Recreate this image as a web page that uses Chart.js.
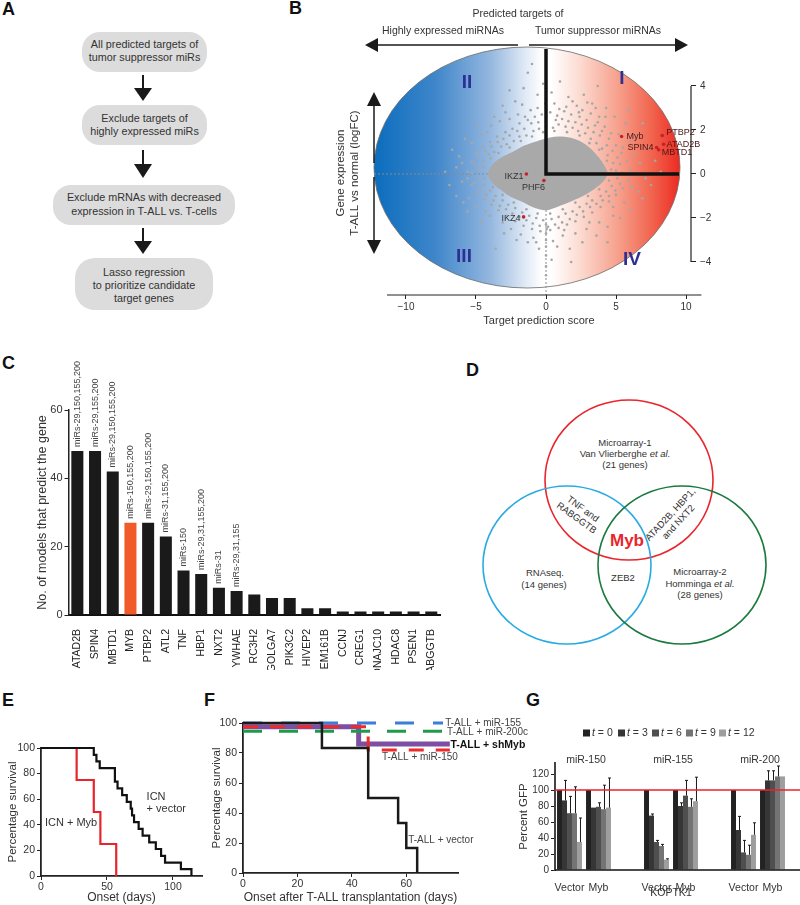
<!DOCTYPE html>
<html><head><meta charset="utf-8">
<script src="https://cdn.jsdelivr.net/npm/chart.js@4.4.1/dist/chart.umd.min.js"></script>
<style>
html,body{margin:0;padding:0;background:#fff;}
#wrap{position:relative;width:800px;height:905px;overflow:hidden;font-family:'Liberation Sans',Arial,sans-serif;}
canvas{position:absolute;}
svg{position:absolute;left:0;top:0;}
</style></head><body>
<div id="wrap">
<svg width="800" height="905" font-family="'Liberation Sans', Arial, sans-serif">
 <g font-weight="bold" font-size="18" fill="#111">
  <text x="2" y="15">A</text>
  <text x="289" y="14">B</text>
  <text x="2" y="369">C</text>
  <text x="466" y="376">D</text>
  <text x="2" y="706">E</text>
  <text x="204" y="706">F</text>
  <text x="526" y="706">G</text>
 </g>
 <g fill="#dcdcdc">
  <rect x="82" y="32" width="125" height="40" rx="18"/>
  <rect x="82" y="105" width="125" height="40" rx="18"/>
  <rect x="53" y="185" width="182" height="40" rx="18"/>
  <rect x="75" y="258" width="138" height="52" rx="20"/>
 </g>
 <g font-size="10.8" fill="#333" text-anchor="middle">
  <text x="144.5" y="48">All predicted targets of</text>
  <text x="144.5" y="61">tumor suppressor miRs</text>
  <text x="144.5" y="122">Exclude targets of</text>
  <text x="144.5" y="135">highly expressed miRs</text>
  <text x="144" y="201">Exclude mRNAs with decreased</text>
  <text x="144" y="215">expression in T-ALL vs. T-cells</text>
  <text x="144" y="276">Lasso regression</text>
  <text x="144" y="289">to prioritize candidate</text>
  <text x="144" y="302">target genes</text>
 </g>
 <g stroke="#1a1a1a" stroke-width="2">
  <line x1="143" y1="75" x2="143" y2="90"/>
  <line x1="143" y1="150" x2="143" y2="166"/>
  <line x1="143" y1="228" x2="143" y2="242"/>
 </g>
 <g fill="#1a1a1a">
  <polygon points="134,88 152,88 143,101"/>
  <polygon points="134,164 152,164 143,178"/>
  <polygon points="134,241 152,241 143,254"/>
 </g>
 <g fill="none" stroke-width="1.6">
  <ellipse cx="629" cy="480" rx="84" ry="80" stroke="#e8262c"/>
  <ellipse cx="567" cy="565" rx="84" ry="79" stroke="#29abe2"/>
  <ellipse cx="682" cy="565" rx="84" ry="79" stroke="#1b7a3e"/>
 </g>
 <g font-size="9.5" fill="#333" text-anchor="middle">
  <text x="625" y="446">Microarray-1</text>
  <text x="625" y="457">Van Vlierberghe <tspan font-style="italic">et al.</tspan></text>
  <text x="625" y="468">(21 genes)</text>
  <text x="545" y="576">RNAseq.</text>
  <text x="544" y="588">(14 genes)</text>
  <text x="700" y="575">Microarray-2</text>
  <text x="700" y="587">Homminga <tspan font-style="italic">et al.</tspan></text>
  <text x="700" y="598">(28 genes)</text>
  <text x="623" y="581">ZEB2</text>
  <g transform="translate(580,513) rotate(36)"><text y="-2">TNF and</text><text y="9">RABGGTB</text></g>
  <g transform="translate(674,518) rotate(-47)"><text y="-2">ATAD2B, HBP1,</text><text y="9">and NXT2</text></g>
 </g>
 <text x="627" y="546" text-anchor="middle" font-size="17" font-weight="bold" fill="#e8262c">Myb</text>
</svg>
<canvas id="cB" width="560" height="330" style="left:240px;top:0"></canvas>
<canvas id="cC" width="450" height="340" style="left:0;top:330px"></canvas>
<canvas id="cE" width="215" height="215" style="left:0;top:690px"></canvas>
<canvas id="cF" width="340" height="215" style="left:200px;top:690px"></canvas>
<canvas id="cG" width="295" height="215" style="left:505px;top:690px"></canvas>
</div>
<script>
// ---------- Panel B data ----------
const bTicksX = [-10, -5, 0, 5, 10];
const bTicksY = [-4, -2, 0, 2, 4];
const bGenes = ['Myb', 'PTBP2', 'ATAD2B', 'SPIN4', 'MBTD1', 'IKZ1', 'PHF6', 'IKZ4'];
const bGeneX = [5.4, 8.3, 8.4, 7.9, 8.05, -1.4, -0.15, -1.6];
const bGeneY = [1.7, 1.75, 1.35, 1.2, 1.1, 0.0, -0.3, -1.95];
const bCore = [[-4.2,0.0],[-3.8,0.45],[-3.2,0.75],[-2.4,1.0],[-1.5,1.3],[-0.6,1.5],[0.2,1.65],[1.1,1.7],[2.0,1.6],[2.8,1.35],[3.5,0.95],[4.1,0.45],[4.4,0.0],[4.0,-0.4],[3.3,-0.75],[2.5,-1.05],[1.6,-1.3],[0.8,-1.5],[0.0,-1.65],[-0.8,-1.55],[-1.6,-1.3],[-2.5,-1.05],[-3.3,-0.7],[-3.9,-0.35],[-4.2,0.0]];
const bCloud = [
[-4.8,0.2],[-4.5,0.6],[-4.1,0.9],[-3.7,1.0],[-3.2,1.25],[-2.8,1.35],[-2.3,1.5],[-1.9,1.7],[-1.4,1.75],[-0.9,1.95],[-0.5,2.05],[0.0,2.15],[0.5,2.1],[0.9,2.25],[1.4,2.15],[1.9,2.1],[2.3,1.95],[2.8,1.85],[3.2,1.6],[3.6,1.4],[4.0,1.15],[4.4,0.85],[4.8,0.5],[5.0,0.15],[5.1,-0.2],[4.7,-0.55],[4.3,-0.8],[3.9,-1.0],[3.3,-1.2],[2.9,-1.35],[2.4,-1.5],[1.9,-1.7],[1.4,-1.8],[0.9,-1.95],[0.4,-2.05],[-0.2,-2.1],[-0.7,-2.0],[-1.2,-1.9],[-1.7,-1.75],[-2.2,-1.55],[-2.7,-1.4],[-3.1,-1.2],[-3.6,-1.0],[-4.0,-0.75],[-4.4,-0.5],[-4.8,-0.25],
[-4.45,0.3],[-3.95,0.7],[-3.4,0.95],[-2.6,1.2],[-1.8,1.5],[-1.0,1.7],[-0.2,1.9],[0.6,1.95],[1.5,1.9],[2.4,1.75],[3.1,1.4],[3.8,1.1],[4.35,0.6],[4.65,0.2],[4.5,-0.3],[3.8,-0.7],[3.0,-1.0],[2.1,-1.3],[1.2,-1.6],[0.3,-1.8],[-0.6,-1.8],[-1.4,-1.6],[-2.3,-1.3],[-3.1,-0.95],[-3.8,-0.6],[-4.4,-0.2],
[-5.6,0.1],[-5.3,0.55],[-5.0,0.95],[-4.5,1.25],[-4.0,1.45],[-3.5,1.7],[-2.9,1.9],[-2.4,2.05],[-1.9,2.3],[-1.3,2.45],[-0.8,2.6],[-0.3,2.7],[0.3,2.8],[0.8,2.65],[1.3,2.85],[1.8,2.7],[2.4,2.6],[2.9,2.45],[3.5,2.2],[4.0,1.95],[4.5,1.6],[5.0,1.3],[5.4,0.95],[5.8,0.6],[6.0,0.2],[5.9,-0.3],[5.5,-0.65],[5.0,-0.95],[4.5,-1.25],[3.9,-1.5],[3.3,-1.75],[2.7,-1.95],[2.1,-2.15],[1.5,-2.3],[0.9,-2.45],[0.3,-2.55],[-0.4,-2.6],[-1.0,-2.5],[-1.6,-2.35],[-2.2,-2.15],[-2.8,-1.9],[-3.4,-1.65],[-3.9,-1.4],[-4.4,-1.15],[-4.9,-0.85],[-5.3,-0.5],[-5.6,-0.2],
[0.7,2.45],[1.15,2.5],[1.6,2.4],[2.1,2.35],[2.55,2.25],[3.0,2.1],[3.4,1.9],[3.85,1.75],[2.6,2.9],[3.2,2.75],[1.9,3.3],[1.45,3.05],[0.95,2.95],[2.35,2.8],[3.7,2.35],[4.2,2.15],[4.65,1.85],[4.25,2.6],[3.55,3.0],[2.95,3.25],
[-0.55,2.35],[-1.05,2.3],[-1.55,2.05],[-2.05,1.95],[-2.6,1.75],[-3.05,1.6],[-3.45,1.45],[-3.9,1.25],[-4.35,1.05],[-4.75,0.8],[-5.1,0.45],[-5.3,0.05],[-5.15,-0.4],[-4.7,-0.7],[-4.25,-0.95],[-3.75,-1.2],[-3.3,-1.45],[-2.85,-1.6],[-2.4,-1.8],[-1.9,-1.95],[-1.4,-2.1],[-0.95,-2.25],[-0.45,-2.35],[0.15,-2.4],[0.65,-2.3],[1.15,-2.2],[1.7,-2.05],[2.2,-1.85],[2.65,-1.7],[3.15,-1.5],[3.6,-1.35],[4.05,-1.2],[4.5,-1.0],[4.95,-0.75],[5.3,-0.45],[5.45,0.05],[5.3,0.45],[5.1,0.75],[4.75,1.05],[4.35,1.3],
[-3.9,2.2],[-3.3,2.4],[-2.0,2.7],[-1.5,2.6],[-0.6,3.0],[-1.7,3.15],[-2.9,2.8],[-4.6,1.8],[-5.3,1.4],[-6.2,0.8],[-6.0,-0.35],[-5.9,-1.3],[-5.0,-1.5],[-4.3,-1.7],[-3.1,-2.2],[-1.8,-2.75],[-0.7,-3.1],[0.5,-3.05],[1.3,-2.55],[2.1,-2.7],[2.9,-2.5],[3.8,-2.2],[4.8,-1.9],[5.6,-1.3],[6.6,-0.8],[6.7,0.5],[7.1,-0.2],[5.5,1.2],[6.0,1.5],
[-6.0,0.5],[-4.2,1.9],[-2.6,2.5],[-1.1,2.9],[0.6,3.2],[2.2,3.1],[3.8,2.6],[5.2,1.8],[6.3,0.9],[6.1,-0.6],[4.8,-1.5],[3.1,-2.2],[1.2,-2.8],[-0.9,-2.9],[-2.5,-2.5],[-4.0,-1.9],[-5.5,-1.1],
[-7.2,0.1],[-6.9,-0.5],[-6.7,1.1],[-6.4,0.3],[-5.8,1.6],[-4.9,2.2],[-3.7,2.6],[-3.1,3.1],[-2.2,3.3],[-1.6,3.9],[-1.3,4.6],[-1.0,5.0],[-0.6,3.6],[-0.2,4.1],[0.4,3.7],[1.0,4.2],[1.6,3.5],[2.7,3.6],[3.3,3.2],[4.3,3.0],[4.9,2.6],[5.7,2.3],[6.4,1.7],[6.9,2.3],[7.3,1.2],[7.8,0.6],[8.2,0.1],[7.5,-0.5],[6.9,-1.1],[6.0,-1.6],[5.3,-2.0],[4.4,-2.4],[3.6,-2.8],[2.6,-3.1],[1.7,-3.4],[0.8,-3.3],[0.4,-3.9],[1.8,-4.0],[-0.5,-3.4],[-1.3,-3.1],[-2.1,-3.0],[-3.0,-2.7],[-3.6,-3.4],[-4.6,-2.2],[-5.6,-1.7],[-6.4,-1.0],[4.4,-3.1],[-2.6,3.8],[5.9,2.9],[3.7,4.0],
[0,2.4],[0,2.6],[0,3.0],[0,3.4],[0,3.9],[0,-2.3],[0,-2.7],[0,-3.0],[0,-3.3],[0,-3.7],[0,-4.2],[0,-4.6],[0.05,-2.5],[-0.05,3.2]
];

// ---------- Panel C data ----------
const cGenes = ['ATAD2B','SPIN4','MBTD1','MYB','PTBP2','ATL2','TNF','HBP1','NXT2','YWHAE','RC3H2','GOLGA7','PIK3C2','HIVEP2','TMEM161B','CCNJ','CREG1','DNAJC10','HDAC8','PSEN1','RABGGTB'];
const cModels = [48,48,42,27,27,23,13,12,8,7,6,5,5,2,2,1,1,1,1,1,1];
const cMirs = ['miRs-29,150,155,200','miRs-29,155,200','miRs-29,150,155,200','miRs-150,155,200','miRs-29,150,155,200','miRs-31,155,200','miRs-150','miRs-29,31,155,200','miRs-31','miRs-29,31,155','','','','','','','','','','',''];
const cTicks = [0, 20, 40, 60];

// ---------- Panel E data ----------
const eMybDays = [0, 27, 40, 45, 57];
const eMybSurv = [100, 75, 50, 25, 0];
const eVecDays = [0, 40, 42, 44.5, 56, 58, 61.5, 65, 68, 69, 70.5, 74, 77, 82, 87, 91, 94, 106, 114];
const eVecSurv = [100, 94.7, 89.5, 84.2, 73.7, 68.4, 63.2, 57.9, 52.6, 47.4, 42.1, 36.8, 31.6, 26.3, 21.1, 15.8, 10.5, 5.3, 0];
const eTicksX = [0, 50, 100];
const survTicks = [0, 20, 40, 60, 80, 100];

// ---------- Panel F data ----------
const fVecDays = [0, 29, 46, 57, 60, 64];
const fVecSurv = [100, 83.3, 50, 33.3, 16.7, 0];
const f155Days = [0, 73.5];
const f155Surv = [100, 100];
const f200Days = [0, 75];
const f200Surv = [94.5, 94.5];
const fShDays = [0, 42.5, 76];
const fShSurv = [97.5, 86, 86];
const f150Days = [0, 46, 76];
const f150Surv = [97.5, 82, 82];
const fTicksX = [0, 20, 40, 60];

// ---------- Panel G data ----------
const gCats = ['Vector','Myb','','Vector','Myb','','Vector','Myb'];
const gMirs = ['miR-150','miR-155','miR-200'];
const gLegend = ['t = 0','t = 3','t = 6','t = 9','t = 12'];
const gT0  = [100,100,null,100,100,null,100,100];
const gT3  = [87,78,null,68,80,null,50,112];
const gT6  = [71,79,null,35,93,null,22,112];
const gT9  = [71,76,null,30,79,null,19,117];
const gT12 = [35,78,null,13,86,null,44,117];
const gE0  = [0,0,null,0,0,null,0,0];
const gE3  = [25,0,null,2,4,null,17,12];
const gE6  = [21,5,null,2,19,null,15,12];
const gE9  = [33,30,null,2,10,null,12,13];
const gE12 = [30,37,null,1,30,null,15,0];
const gTicks = [0,20,40,60,80,100,120];

// ---------- helpers ----------
const FONT = "'Liberation Sans', Arial, sans-serif";
Chart.defaults.font.family = FONT;
Chart.defaults.color = '#333';
Chart.defaults.plugins.legend.display = false;
Chart.defaults.plugins.tooltip.enabled = false;
const fixTicks = vals => s => { s.ticks = vals.map(v => ({value: v})); };
const size = n => s => { if (s.isHorizontal()) s.height = n; else s.width = n; };
const minus = v => v < 0 ? '\u2212' + Math.abs(v) : String(v);
const pts = (xs, ys) => xs.map((x, i) => ({x: x, y: ys[i]}));
const base = {responsive: false, animation: false, devicePixelRatio: 1, events: []};

// ---------- Panel B ----------
const bDecor = {
  id: 'bDecor',
  beforeDraw(chart) {
    const {ctx, scales: {x, y}, chartArea} = chart;
    const L = 134, R = 440, T = 47, B = 288;
    const cx = (L + R) / 2, cy = (T + B) / 2;
    ctx.save();
    const g = ctx.createLinearGradient(L, 0, R, 0);
    g.addColorStop(0, '#0a6dbd');
    g.addColorStop(0.2, '#3f86ca');
    g.addColorStop(0.38, '#94b7df');
    g.addColorStop(0.5, '#e4ecf7');
    g.addColorStop(0.55, '#ffffff');
    g.addColorStop(0.58, '#ffffff');
    g.addColorStop(0.67, '#fcdcd2');
    g.addColorStop(0.8, '#f69f8b');
    g.addColorStop(0.91, '#f1634d');
    g.addColorStop(1, '#ec2a22');
    ctx.beginPath();
    ctx.ellipse(cx, cy, (R - L) / 2, (B - T) / 2, 0, 0, Math.PI * 2);
    ctx.fillStyle = g; ctx.fill();
    ctx.lineWidth = 0.8; ctx.strokeStyle = '#6a6a6a'; ctx.stroke();
    const x0 = x.getPixelForValue(0), y0 = y.getPixelForValue(0);
    ctx.setLineDash([2, 2]); ctx.strokeStyle = '#8a8a8a'; ctx.lineWidth = 1;
    ctx.beginPath(); ctx.moveTo(L, y0); ctx.lineTo(x0, y0); ctx.stroke();
    ctx.beginPath(); ctx.moveTo(x0, y0); ctx.lineTo(x0, chartArea.bottom); ctx.stroke();
    ctx.setLineDash([]);
    ctx.strokeStyle = '#222'; ctx.lineWidth = 1.2;
    ctx.beginPath(); ctx.moveTo(x.getPixelForValue(-11.36), chartArea.bottom); ctx.lineTo(x.getPixelForValue(11.1), chartArea.bottom); ctx.stroke();
    ctx.beginPath(); ctx.moveTo(chartArea.right, y.getPixelForValue(4)); ctx.lineTo(chartArea.right, y.getPixelForValue(-4)); ctx.stroke();
    ctx.restore();
  },
  afterDatasetsDraw(chart) {
    const {ctx, scales: {x, y}} = chart;
    const x0 = x.getPixelForValue(0), y0 = y.getPixelForValue(0);
    ctx.save();
    ctx.strokeStyle = '#111'; ctx.lineWidth = 3.5;
    ctx.beginPath(); ctx.moveTo(x0, 49); ctx.lineTo(x0, y0); ctx.lineTo(439, y0); ctx.stroke();
    ctx.fillStyle = '#2e3192'; ctx.font = 'bold 19px ' + FONT; ctx.textAlign = 'center'; ctx.textBaseline = 'middle';
    ctx.fillText('II', 227, 83); ctx.fillText('I', 382, 79); ctx.fillText('III', 224, 257); ctx.fillText('IV', 392, 260);
    const lay = {Myb:[5,0,'left'], PTBP2:[4,-3,'left'], ATAD2B:[3,0,'left'], SPIN4:[-3,0,'right'], MBTD1:[3,3,'left'], IKZ1:[-3,3,'right'], PHF6:[1,7,'right'], IKZ4:[-3,2,'right']};
    ctx.font = '9px ' + FONT;
    bGenes.forEach((gname, i) => {
      const l = lay[gname];
      ctx.fillStyle = bGeneX[i] > 0 ? '#4a1616' : '#333';
      ctx.textAlign = l[2];
      ctx.fillText(gname, x.getPixelForValue(bGeneX[i]) + l[0], y.getPixelForValue(bGeneY[i]) + l[1]);
    });
    ctx.strokeStyle = '#1a1a1a'; ctx.fillStyle = '#1a1a1a'; ctx.lineWidth = 1.5;
    const line = (a, b, c, d) => { ctx.beginPath(); ctx.moveTo(a, b); ctx.lineTo(c, d); ctx.stroke(); };
    const tri = (p) => { ctx.beginPath(); ctx.moveTo(p[0], p[1]); ctx.lineTo(p[2], p[3]); ctx.lineTo(p[4], p[5]); ctx.closePath(); ctx.fill(); };
    line(137, 45, 278, 45); tri([125, 45, 138, 38, 138, 52]);
    line(289, 45, 436, 45); tri([448, 45, 435, 38, 435, 52]);
    line(134, 105, 134, 163); tri([134, 92, 127, 106, 141, 106]);
    line(134, 177, 134, 241); tri([134, 254, 127, 240, 141, 240]);
    ctx.fillStyle = '#333'; ctx.font = '10.5px ' + FONT; ctx.textAlign = 'center'; ctx.textBaseline = 'middle';
    ctx.fillText('Predicted targets of', 278, 14);
    ctx.fillText('Highly expressed miRNAs', 203, 31);
    ctx.fillText('Tumor suppressor miRNAs', 358, 31);
    ctx.font = '11.5px ' + FONT;
    ctx.translate(101, 173); ctx.rotate(-Math.PI / 2);
    ctx.fillText('Gene expression', 0, 0);
    ctx.fillText('T-ALL vs normal (logFC)', 0, 14);
    ctx.restore();
  }
};
new Chart(document.getElementById('cB'), {
  type: 'scatter',
  data: {datasets: [
    {type: 'scatter', label: 'Candidate genes', data: pts(bGeneX, bGeneY), pointRadius: 1.8, backgroundColor: '#c8202a', borderWidth: 0, order: 0},
    {type: 'scatter', label: 'Predicted targets', data: bCloud.map(p => ({x: p[0], y: p[1]})), pointRadius: 1.3, backgroundColor: '#a6a6a6', borderWidth: 0, order: 1},
    {type: 'line', label: 'Dense core', data: bCore.map(p => ({x: p[0], y: p[1]})), borderWidth: 0, borderColor: 'rgba(0,0,0,0)', backgroundColor: '#a9a9a9', fill: 'shape', pointRadius: 0, tension: 0.35, order: 2}
  ]},
  options: Object.assign({}, base, {
    layout: {padding: {left: 147, right: 79, top: 47, bottom: 0}},
    scales: {
      x: {type: 'linear', min: -11.357, max: 10.357, afterBuildTicks: fixTicks(bTicksX), afterFit: size(35), border: {display: false},
          grid: {drawOnChartArea: false, tickLength: 4, color: '#222'}, ticks: {callback: minus, font: {size: 10}, padding: 2, color: '#333'},
          title: {display: true, text: 'Target prediction score', font: {size: 11}, padding: {top: 0, bottom: 2}, color: '#333'}},
      y: {type: 'linear', position: 'right', min: -5.5, max: 5.77, afterBuildTicks: fixTicks(bTicksY), afterFit: size(30), border: {display: false},
          grid: {drawOnChartArea: false, tickLength: 5, color: '#222'}, ticks: {callback: minus, font: {size: 10}, padding: 4, color: '#333'}}
    }
  }),
  plugins: [bDecor]
});

// ---------- Panel C ----------
const cAnnot = {
  id: 'cAnnot',
  afterDatasetsDraw(chart) {
    const {ctx} = chart;
    const meta = chart.getDatasetMeta(0);
    ctx.save();
    ctx.fillStyle = '#444'; ctx.font = '9px ' + FONT; ctx.textAlign = 'left'; ctx.textBaseline = 'middle';
    meta.data.forEach((bar, i) => {
      if (!cMirs[i]) return;
      ctx.save(); ctx.translate(bar.x, bar.y - 4); ctx.rotate(-Math.PI / 2); ctx.fillText(cMirs[i], 0, 0); ctx.restore();
    });
    ctx.restore();
  }
};
new Chart(document.getElementById('cC'), {
  type: 'bar',
  data: {labels: cGenes, datasets: [{label: 'No. of models', data: cModels,
    backgroundColor: cGenes.map(g => g === 'MYB' ? '#f15a29' : '#1a1a1a'), categoryPercentage: 1, barPercentage: 0.68}]},
  options: Object.assign({}, base, {
    layout: {padding: {left: 35, right: 5.6, top: 80, bottom: 0}},
    scales: {
      x: {afterFit: size(55), grid: {display: false}, border: {display: true, color: '#111', width: 2},
          ticks: {autoSkip: false, minRotation: 90, maxRotation: 90, padding: 6, font: {size: 10.5}, color: '#222'}},
      y: {min: 0, max: 60, afterBuildTicks: fixTicks(cTicks), afterFit: size(33.5), grid: {drawOnChartArea: false, tickLength: 4, color: '#222'},
          border: {color: '#222', width: 1.5}, ticks: {font: {size: 11}, padding: 2},
          title: {display: true, text: 'No. of models that predict the gene', font: {size: 12.5}, padding: 0}}
    }
  }),
  plugins: [cAnnot]
});

// ---------- Panel E ----------
const axisStyle = {grid: {drawOnChartArea: false, tickLength: 4, color: '#222'}, border: {color: '#222', width: 1.8}};
const eLabels = {
  id: 'eLabels',
  afterDatasetsDraw(chart) {
    const {ctx, scales: {x, y}} = chart;
    ctx.save(); ctx.fillStyle = '#333'; ctx.font = '11px ' + FONT; ctx.textBaseline = 'middle'; ctx.textAlign = 'left';
    ctx.fillText('ICN + Myb', x.getPixelForValue(3), y.getPixelForValue(41.5));
    ctx.fillText('ICN', x.getPixelForValue(80), y.getPixelForValue(61.5));
    ctx.fillText('+ vector', x.getPixelForValue(80), y.getPixelForValue(52));
    ctx.restore();
  }
};
new Chart(document.getElementById('cE'), {
  type: 'line',
  data: {datasets: [
    {label: 'ICN + vector', data: pts(eVecDays, eVecSurv), borderColor: '#111', borderWidth: 2.2, stepped: 'before', pointRadius: 0, clip: false, order: 0},
    {label: 'ICN + Myb', data: pts(eMybDays, eMybSurv), borderColor: '#e8252b', borderWidth: 2.2, stepped: 'before', pointRadius: 0, clip: false, order: 1}
  ]},
  options: Object.assign({}, base, {
    layout: {padding: {left: 6, right: 13, top: 58, bottom: 0}},
    scales: {
      x: Object.assign({type: 'linear', min: 0, max: 122, afterBuildTicks: fixTicks(eTicksX), afterFit: size(29),
          ticks: {font: {size: 10.5}, padding: 1}, title: {display: true, text: 'Onset (days)', font: {size: 12}, padding: 0}}, axisStyle),
      y: Object.assign({min: 0, max: 100, afterBuildTicks: fixTicks(survTicks), afterFit: size(35),
          ticks: {font: {size: 10.5}, padding: 2}, title: {display: true, text: 'Percentage survival', font: {size: 11.5}, padding: 0}}, axisStyle)
    }
  }),
  plugins: [eLabels]
});

// ---------- Panel F ----------
const fLabels = {
  id: 'fLabels',
  afterDatasetsDraw(chart) {
    const {ctx, scales: {x, y}} = chart;
    ctx.save(); ctx.fillStyle = '#444'; ctx.font = '10px ' + FONT; ctx.textBaseline = 'middle'; ctx.textAlign = 'left';
    ctx.fillText('T-ALL + miR-155', x.getPixelForValue(74.3), y.getPixelForValue(100));
    ctx.fillText('T-ALL + miR-200c', x.getPixelForValue(75), y.getPixelForValue(94));
    ctx.fillText('T-ALL + vector', x.getPixelForValue(60.7), y.getPixelForValue(22));
    ctx.textAlign = 'center';
    ctx.fillText('T-ALL + miR-150', x.getPixelForValue(65), y.getPixelForValue(77.3));
    ctx.textAlign = 'left'; ctx.fillStyle = '#111'; ctx.font = 'bold 10.5px ' + FONT;
    ctx.fillText('T-ALL + shMyb', x.getPixelForValue(76.2), y.getPixelForValue(85.5));
    ctx.restore();
  }
};
new Chart(document.getElementById('cF'), {
  type: 'line',
  data: {datasets: [
    {label: 'T-ALL + vector', data: pts(fVecDays, fVecSurv), borderColor: '#1a1a1a', borderWidth: 2.5, stepped: 'before', pointRadius: 0, clip: false, order: 0},
    {label: 'T-ALL + miR-155', data: pts(f155Days, f155Surv), borderColor: '#3b7dd8', borderWidth: 3, borderDash: [19, 19], stepped: 'before', pointRadius: 0, clip: false, order: 1},
    {label: 'T-ALL + miR-200c', data: pts(f200Days, f200Surv), borderColor: '#1f9a4a', borderWidth: 3, borderDash: [19, 17], stepped: 'before', pointRadius: 0, clip: false, order: 2},
    {label: 'T-ALL + miR-150', data: pts(f150Days, f150Surv), borderColor: '#ee2a2a', borderWidth: 3, borderDash: [15, 12], stepped: 'before', pointRadius: 0, clip: false, order: 3},
    {label: 'T-ALL + shMyb', data: pts(fShDays, fShSurv), borderColor: '#7d4fa3', borderWidth: 5, stepped: 'before', pointRadius: 0, clip: false, order: 4}
  ]},
  options: Object.assign({}, base, {
    layout: {padding: {left: 10, right: 82, top: 33, bottom: 0}},
    scales: {
      x: Object.assign({type: 'linear', min: 0, max: 79, afterBuildTicks: fixTicks(fTicksX), afterFit: size(32),
          ticks: {font: {size: 10.5}, padding: 1}, title: {display: true, text: 'Onset after T-ALL transplantation (days)', font: {size: 12}, padding: 0}}, axisStyle),
      y: Object.assign({min: 0, max: 100, afterBuildTicks: fixTicks(survTicks), afterFit: size(33),
          ticks: {font: {size: 10.5}, padding: 2}, title: {display: true, text: 'Percentage survival', font: {size: 11.5}, padding: 0}}, axisStyle)
    }
  }),
  plugins: [fLabels]
});

// ---------- Panel G ----------
const gVals = [gT0, gT3, gT6, gT9, gT12];
const gErrs = [gE0, gE3, gE6, gE9, gE12];
const gColors = ['#222222', '#363636', '#4f4f4f', '#747474', '#9e9e9e'];
const gDecor = {
  id: 'gDecor',
  afterDatasetsDraw(chart) {
    const {ctx, scales: {x, y}, chartArea, width} = chart;
    ctx.save();
    ctx.strokeStyle = '#1a1a1a'; ctx.lineWidth = 1;
    gVals.forEach((vals, k) => {
      const meta = chart.getDatasetMeta(k);
      vals.forEach((v, i) => {
        const e = gErrs[k][i];
        if (v == null || !e) return;
        const bx = meta.data[i].x + 1, top = y.getPixelForValue(v + e);
        ctx.beginPath(); ctx.moveTo(bx, y.getPixelForValue(v)); ctx.lineTo(bx, top); ctx.moveTo(bx - 1.5, top); ctx.lineTo(bx + 1.5, top); ctx.stroke();
      });
    });
    ctx.strokeStyle = '#111'; ctx.lineWidth = 1.5;
    ctx.beginPath(); ctx.moveTo(chartArea.left, y.getPixelForValue(0)); ctx.lineTo(width, y.getPixelForValue(0)); ctx.stroke();
    ctx.strokeStyle = '#e8232a'; ctx.lineWidth = 1.6;
    ctx.beginPath(); ctx.moveTo(chartArea.left, y.getPixelForValue(100)); ctx.lineTo(width, y.getPixelForValue(100)); ctx.stroke();
    ctx.fillStyle = '#333'; ctx.font = '10.5px ' + FONT; ctx.textAlign = 'center'; ctx.textBaseline = 'middle';
    gMirs.forEach((m, j) => {
      const cx = (x.getPixelForValue(3 * j) + x.getPixelForValue(3 * j + 1)) / 2;
      ctx.fillText(m, cx + 2, 70);
    });
    ctx.fillText('KOPTK1', (x.getPixelForValue(3) + x.getPixelForValue(4)) / 2, 203);
    const lx = [78, 113, 147, 181, 214];
    ctx.textAlign = 'left';
    gLegend.forEach((t, k) => {
      ctx.fillStyle = gColors[k]; ctx.fillRect(lx[k], 39.5, 7, 7);
      ctx.fillStyle = '#333';
      ctx.font = 'italic 10.5px ' + FONT; ctx.fillText(t.charAt(0), lx[k] + 9, 43.5);
      const w = ctx.measureText(t.charAt(0)).width;
      ctx.font = '10.5px ' + FONT; ctx.fillText(t.slice(1), lx[k] + 9 + w, 43.5);
    });
    ctx.restore();
  }
};
new Chart(document.getElementById('cG'), {
  type: 'bar',
  data: {labels: gCats, datasets: gVals.map((vals, k) => ({label: gLegend[k], data: vals, backgroundColor: gColors[k], categoryPercentage: 0.86, barPercentage: 1, borderWidth: 0}))},
  options: Object.assign({}, base, {
    layout: {padding: {left: 12, right: 13, top: 73, bottom: 0}},
    scales: {
      x: {afterFit: size(35), grid: {display: false}, border: {display: false}, ticks: {autoSkip: false, maxRotation: 0, minRotation: 0, padding: 4, font: {size: 10.5}}},
      y: {min: 0, max: 133.75, afterBuildTicks: fixTicks(gTicks), afterFit: size(38), grid: {drawOnChartArea: false, tickLength: 4, color: '#222'},
          border: {color: '#444', width: 2}, ticks: {font: {size: 10}, padding: 2}, title: {display: true, text: 'Percent GFP', font: {size: 11.5}, padding: 0}}
    }
  }),
  plugins: [gDecor]
});
</script>
</body></html>
